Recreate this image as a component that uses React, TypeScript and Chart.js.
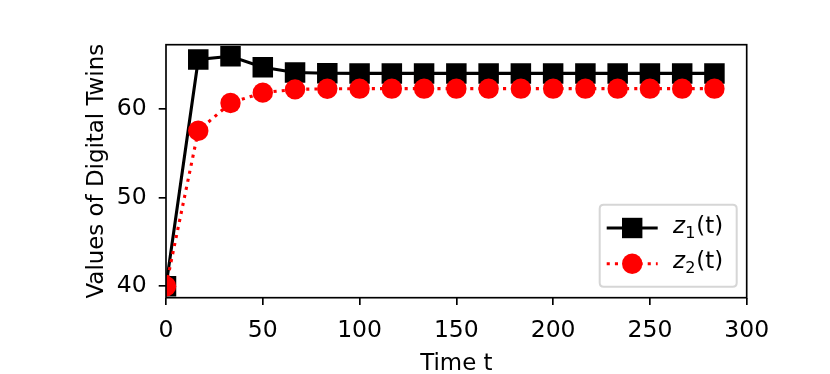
import React, { useEffect, useRef } from 'react';
import { Chart, registerables } from 'chart.js';

Chart.register(...registerables);

const timeT = [0, 16.67, 33.33, 50, 66.67, 83.33, 100, 116.67, 133.33, 150, 166.67, 183.33, 200, 216.67, 233.33, 250, 266.67, 283.33];
const z1Values = [40, 65.57, 65.94, 64.7, 64.11, 64.02, 64.0, 64.0, 64.0, 64.0, 64.0, 64.0, 64.0, 64.0, 64.0, 64.0, 64.0, 64.0];
const z2Values = [40, 57.53, 60.67, 61.83, 62.2, 62.27, 62.28, 62.28, 62.28, 62.28, 62.28, 62.28, 62.28, 62.28, 62.28, 62.28, 62.28, 62.28];
const xTicks = [0, 50, 100, 150, 200, 250, 300];
const yTicks = [40, 50, 60];
const seriesLabels = ['1', '2'];
const xTitle = 'Time t';
const yTitle = 'Values of Digital Twins';

const FONT = '"DejaVu Sans", sans-serif';
const FS = 22.9;
const TICK_FS = 23.5;

const framePlugin = {
  id: 'frame',
  afterDraw(chart: any) {
    const { ctx, chartArea: a } = chart;
    ctx.save();
    ctx.strokeStyle = '#000';
    ctx.lineWidth = 1.67;
    ctx.strokeRect(a.left, a.top, a.right - a.left, a.bottom - a.top);
    ctx.restore();
  },
};

const legendPlugin = {
  id: 'mplLegend',
  afterDraw(chart: any) {
    const { ctx, chartArea: a } = chart;
    const w = 137, h = 82;
    const x1 = a.right - 10, y1 = a.bottom - 11;
    const x0 = x1 - w, y0 = y1 - h;
    ctx.save();
    const r = 4;
    ctx.beginPath();
    ctx.moveTo(x0 + r, y0);
    ctx.lineTo(x1 - r, y0);
    ctx.quadraticCurveTo(x1, y0, x1, y0 + r);
    ctx.lineTo(x1, y1 - r);
    ctx.quadraticCurveTo(x1, y1, x1 - r, y1);
    ctx.lineTo(x0 + r, y1);
    ctx.quadraticCurveTo(x0, y1, x0, y1 - r);
    ctx.lineTo(x0, y0 + r);
    ctx.quadraticCurveTo(x0, y0, x0 + r, y0);
    ctx.closePath();
    ctx.fillStyle = 'rgba(255,255,255,0.8)';
    ctx.fill();
    ctx.strokeStyle = 'rgba(204,204,204,0.8)';
    ctx.lineWidth = 2;
    ctx.stroke();

    const entries = [
      { color: '#000000', dash: [] as number[], marker: 'rect', sub: seriesLabels[0] },
      { color: '#ff0000', dash: [3.1, 5.1], marker: 'circle', sub: seriesLabels[1] },
    ];
    entries.forEach((e, i) => {
      const cy = y0 + 23.3 + i * 35.7;
      const hx0 = x0 + 7, hx1 = x0 + 58, cx = (hx0 + hx1) / 2;
      ctx.strokeStyle = e.color;
      ctx.lineWidth = 3.1;
      ctx.lineCap = 'butt';
      ctx.setLineDash(e.dash);
      ctx.beginPath();
      ctx.moveTo(hx0, cy);
      ctx.lineTo(hx1, cy);
      ctx.stroke();
      ctx.setLineDash([]);
      ctx.fillStyle = e.color;
      if (e.marker === 'rect') {
        ctx.fillRect(cx - 10.2, cy - 10.2, 20.4, 20.4);
      } else {
        ctx.beginPath();
        ctx.arc(cx, cy, 10.2, 0, Math.PI * 2);
        ctx.fill();
      }
      ctx.fillStyle = '#000';
      ctx.textBaseline = 'alphabetic';
      ctx.textAlign = 'left';
      const base = cy + 4.5;
      let tx = x0 + 73.3;
      ctx.font = `italic ${FS}px ${FONT}`;
      ctx.fillText('z', tx, base);
      tx += ctx.measureText('z').width + 0.3;
      ctx.font = `${FS * 0.7}px ${FONT}`;
      ctx.fillText(e.sub, tx, base + 5);
      tx += ctx.measureText(e.sub).width + 0.8;
      ctx.font = `${FS}px ${FONT}`;
      ctx.fillText('(t)', tx, base);
    });
    ctx.restore();
  },
};

export default function App() {
  const ref = useRef<HTMLCanvasElement | null>(null);
  useEffect(() => {
    if (!ref.current) return;
    const chart = new Chart(ref.current, {
      type: 'line',
      data: {
        datasets: [
          {
            label: 'z2(t)',
            data: timeT.map((t, i) => ({ x: t, y: z2Values[i] })),
            borderColor: '#ff0000',
            backgroundColor: '#ff0000',
            borderWidth: 3.1,
            borderDash: [3.1, 5.1],
            borderCapStyle: 'butt',
            pointStyle: 'circle',
            pointRadius: 10.2,
            pointBorderWidth: 0,
            pointBackgroundColor: '#ff0000',
            tension: 0,
            order: 0,
          },
          {
            label: 'z1(t)',
            data: timeT.map((t, i) => ({ x: t, y: z1Values[i] })),
            borderColor: '#000000',
            backgroundColor: '#000000',
            borderWidth: 3.1,
            pointStyle: 'rect',
            pointRadius: 14.5,
            pointBorderWidth: 0,
            pointBackgroundColor: '#000000',
            tension: 0,
            order: 1,
          },
        ],
      },
      options: {
        animation: false,
        responsive: false,
        events: [],
        layout: { padding: { left: 0, top: 44.7, right: 83.3, bottom: 0 } },
        plugins: { legend: { display: false }, tooltip: { enabled: false } },
        scales: {
          x: {
            type: 'linear',
            min: 0,
            max: 300,
            afterFit: (s: any) => { s.height = 76.3; },
            afterBuildTicks: (s: any) => { s.ticks = xTicks.map((v) => ({ value: v })); },
            grid: { drawOnChartArea: false, drawTicks: true, tickLength: 7.3, lineWidth: 1.67, color: '#000' },
            border: { display: false },
            ticks: { color: '#000', font: { family: FONT, size: TICK_FS }, padding: 11.5, maxRotation: 0 },
            title: { display: true, text: xTitle, color: '#000', font: { family: FONT, size: FS }, padding: { top: 0, bottom: -4 } },
          },
          y: {
            type: 'linear',
            min: 38.7,
            max: 67.24,
            afterFit: (s: any) => { s.width = 166; },
            afterBuildTicks: (s: any) => { s.ticks = yTicks.map((v) => ({ value: v })); },
            grid: { drawOnChartArea: false, drawTicks: true, tickLength: 7.3, lineWidth: 1.67, color: '#000' },
            border: { display: false },
            ticks: { color: '#000', font: { family: FONT, size: TICK_FS }, padding: 12 },
            title: { display: true, text: yTitle, color: '#000', font: { family: FONT, size: FS }, padding: { top: 83.5, bottom: 0 } },
          },
        },
      },
      plugins: [framePlugin, legendPlugin],
    } as any);
    return () => chart.destroy();
  }, []);
  return (
    <div style={{ position: 'absolute', left: 0, top: 0, width: 830, height: 374 }}>
      <canvas ref={ref} width={830} height={374} style={{ width: 830, height: 374 }} />
    </div>
  );
}
